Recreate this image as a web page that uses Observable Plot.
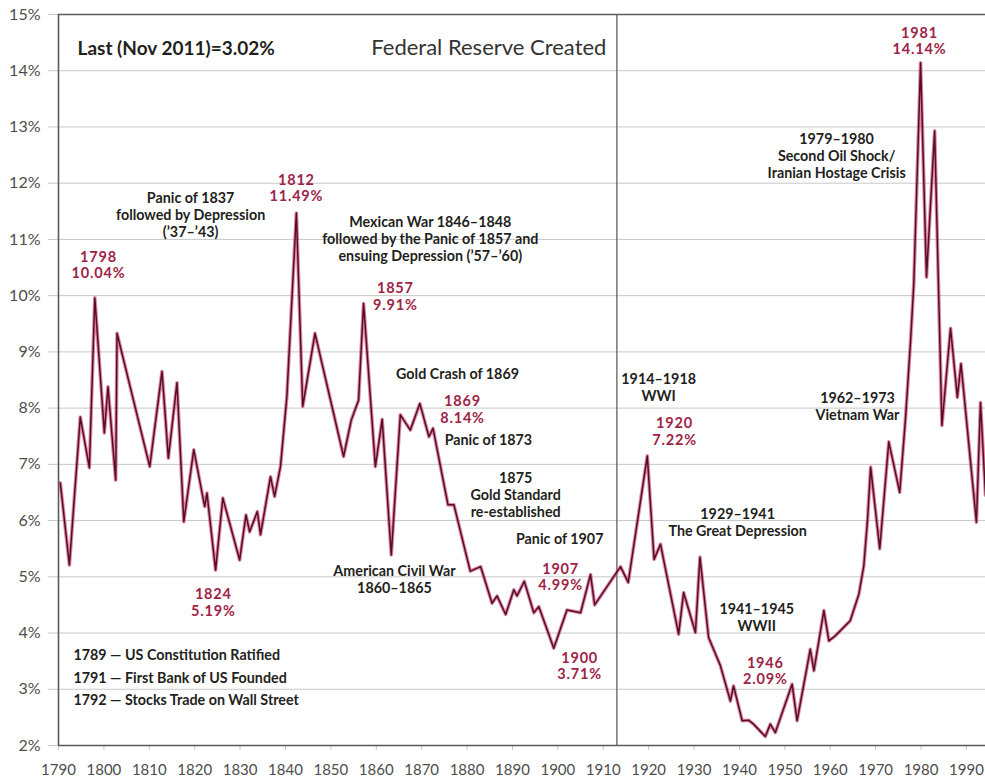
<!DOCTYPE html>
<html>
<head>
<meta charset="utf-8">
<script src="https://cdn.jsdelivr.net/npm/d3@7"></script>
<script src="https://cdn.jsdelivr.net/npm/@observablehq/plot@0.6"></script>
<style>
  html, body { margin: 0; padding: 0; background: #fff; }
  #chart svg { display: block; }
  #chart g[fill="#9e2447"] text { letter-spacing: 0.8px; }
</style>
</head>
<body>
<div id="chart"></div>
<script>
// ---- data ----
const years = [
  1790.4, 1792.4, 1794.8, 1796.8, 1798.0, 1800.1, 1800.9, 1802.6, 1802.9, 1810.1,
  1812.8, 1814.2, 1816.1, 1817.6, 1819.8, 1822.2, 1822.7, 1824.6, 1826.2, 1829.9,
  1831.3, 1832.1, 1833.8, 1834.5, 1836.7, 1837.6, 1838.9, 1840.3, 1841.2, 1842.4,
  1843.8, 1846.5, 1852.8, 1854.5, 1856.1, 1857.2, 1859.8, 1861.3, 1863.3, 1865.3,
  1867.5, 1869.6, 1871.6, 1872.5, 1875.8, 1877.1, 1880.7, 1883.0, 1885.5, 1886.6,
  1888.5, 1890.3, 1891.0, 1892.6, 1894.7, 1895.8, 1899.1, 1902.0, 1905.0, 1907.2,
  1908.1, 1913.8, 1915.5, 1919.7, 1921.2, 1922.6, 1926.6, 1927.7, 1930.3, 1931.3,
  1933.2, 1935.8, 1938.0, 1938.7, 1940.6, 1942.0, 1943.1, 1945.7, 1946.8, 1947.9,
  1951.6, 1952.7, 1955.6, 1956.4, 1958.6, 1959.7, 1961.1, 1964.4, 1966.3, 1967.4,
  1968.2, 1968.9, 1970.9, 1972.9, 1975.3, 1976.6, 1977.7, 1978.4, 1979.9, 1981.2,
  1983.0, 1984.6, 1986.5, 1988.0, 1988.8, 1992.2, 1993.1, 1994.2
];
const rates = [
  6.67, 5.21, 7.84, 6.94, 9.96, 7.56, 8.38, 6.72, 9.33, 6.96,
  8.65, 7.11, 8.45, 5.98, 7.26, 6.25, 6.49, 5.12, 6.40, 5.30,
  6.10, 5.80, 6.16, 5.75, 6.78, 6.43, 6.96, 8.20, 9.60, 11.47,
  8.03, 9.33, 7.14, 7.79, 8.14, 9.86, 6.96, 7.80, 5.39, 7.88,
  7.61, 8.08, 7.49, 7.64, 6.28, 6.28, 5.10, 5.18, 4.53, 4.66,
  4.33, 4.77, 4.66, 4.92, 4.36, 4.47, 3.73, 4.41, 4.36, 5.04,
  4.50, 5.18, 4.90, 7.15, 5.31, 5.58, 3.98, 4.72, 4.01, 5.35,
  3.92, 3.42, 2.79, 3.06, 2.44, 2.45, 2.38, 2.16, 2.38, 2.23,
  3.09, 2.44, 3.71, 3.33, 4.40, 3.86, 3.95, 4.22, 4.69, 5.20,
  6.00, 6.95, 5.50, 7.40, 6.50, 7.84, 9.20, 10.20, 14.14, 10.33,
  12.93, 7.69, 9.42, 8.19, 8.79, 5.97, 8.10, 6.45
];
const series = years.map((year, i) => ({year, rate: rates[i]}));

const xTicks = [1790, 1800, 1810, 1820, 1830, 1840, 1850, 1860, 1870, 1880,
                1890, 1900, 1910, 1920, 1930, 1940, 1950, 1960, 1970, 1980, 1990];
const yTicks = [2, 3, 4, 5, 6, 7, 8, 9, 10, 11, 12, 13, 14, 15];
const fedYear = 1913;

// annotations (text, anchored at data coordinates)
const blackNotes = [
  {text: "Panic of 1837\nfollowed by Depression\n(’37–’43)", year: 1819.1, rate: 11.44},
  {text: "Mexican War 1846–1848\nfollowed by the Panic of 1857 and\nensuing Depression (’57–’60)", year: 1871.9, rate: 11.02},
  {text: "Gold Crash of 1869", year: 1877.9, rate: 8.61},
  {text: "Panic of 1873", year: 1884.7, rate: 7.44},
  {text: "1875\nGold Standard\nre-established", year: 1890.7, rate: 6.46},
  {text: "Panic of 1907", year: 1900.4, rate: 5.68},
  {text: "American Civil War\n1860–1865", year: 1864.0, rate: 4.96},
  {text: "1914–1918\nWWI", year: 1922.2, rate: 8.37},
  {text: "1929–1941\nThe Great Depression", year: 1939.6, rate: 5.97},
  {text: "1941–1945\nWWII", year: 1943.8, rate: 4.29},
  {text: "1962–1973\nVietnam War", year: 1966.0, rate: 8.04},
  {text: "1979–1980\nSecond Oil Shock/\nIranian Hostage Crisis", year: 1961.4, rate: 12.49}
];
const redNotes = [
  {text: "1798\n10.04%", year: 1798.8, rate: 10.55},
  {text: "1812\n11.49%", year: 1842.4, rate: 11.92},
  {text: "1857\n9.91%", year: 1864.2, rate: 9.99},
  {text: "1869\n8.14%", year: 1879.0, rate: 7.98},
  {text: "1907\n4.99%", year: 1900.6, rate: 5.00},
  {text: "1900\n3.71%", year: 1904.8, rate: 3.42},
  {text: "1824\n5.19%", year: 1824.1, rate: 4.55},
  {text: "1920\n7.22%", year: 1925.7, rate: 7.59},
  {text: "1946\n2.09%", year: 1945.7, rate: 3.33},
  {text: "1981\n14.14%", year: 1979.65, rate: 14.53}
];
const foundingNotes = [
  {text: "1789 — US Constitution Ratified", year: 1793.3, rate: 3.60},
  {text: "1791 — First Bank of US Founded", year: 1793.3, rate: 3.20},
  {text: "1792 — Stocks Trade on Wall Street", year: 1793.3, rate: 2.80}
];
const lastNote = [{text: "Last (Nov 2011)=3.02%", year: 1794.2, rate: 14.38}];
const fedNote = [{text: "Federal Reserve Created", year: 1910.7, rate: 14.40}];

const black = "#231f20";
const red = "#9e2447";

const chart = Plot.plot({
  width: 985,
  height: 779,
  marginLeft: 58,
  marginRight: 0,
  marginTop: 14,
  marginBottom: 34,
  style: {fontFamily: "Lato, 'Open Sans', sans-serif", fontSize: "14px", background: "#fff", overflow: "hidden"},
  x: {domain: [1790, 1994.2]},
  y: {domain: [2, 15]},
  marks: [
    Plot.gridY(yTicks, {stroke: "#c8c8c8", strokeOpacity: 1}),
    Plot.axisY(yTicks, {tickSize: 10, tickPadding: 8, stroke: "#c8c8c8", fill: "#4d4d4d",
      fontSize: 16, tickFormat: d => d + "%", label: null}),
    Plot.axisX(xTicks, {tickSize: 5, tickPadding: 14, stroke: "#c8c8c8", fill: "#4d4d4d",
      fontSize: 15, tickFormat: d => String(d), label: null}),
    Plot.ruleY([2, 15], {stroke: "#5a5a5a", strokeWidth: 1.6}),
    Plot.ruleX([1790], {stroke: "#5a5a5a", strokeWidth: 1.6}),
    Plot.ruleX([fedYear], {y1: 2, y2: 15, stroke: "#555", strokeWidth: 1.2}),
    Plot.line(series, {x: "year", y: "rate", stroke: "#c8386a", strokeWidth: 3.6, strokeOpacity: 0.6}),
    Plot.line(series, {x: "year", y: "rate", stroke: "#560d29", strokeWidth: 1.5}),
    Plot.text(blackNotes, {x: "year", y: "rate", text: "text", fill: black, fontSize: 14.3,
      fontWeight: 700, lineHeight: 1.2, textAnchor: "middle"}),
    Plot.text(redNotes, {x: "year", y: "rate", text: "text", fill: red, fontSize: 14.5,
      fontWeight: 700, lineHeight: 1.14, textAnchor: "middle"}),
    Plot.text(foundingNotes, {x: "year", y: "rate", text: "text", fill: black, fontSize: 14.3,
      fontWeight: 700, textAnchor: "start"}),
    Plot.text(lastNote, {x: "year", y: "rate", text: "text", fill: black, fontSize: 19,
      fontWeight: 700, textAnchor: "start"}),
    Plot.text(fedNote, {x: "year", y: "rate", text: "text", fill: "#333", fontSize: 22,
      fontWeight: 400, textAnchor: "end"})
  ]
});
document.getElementById("chart").appendChild(chart);
</script>
</body>
</html>
